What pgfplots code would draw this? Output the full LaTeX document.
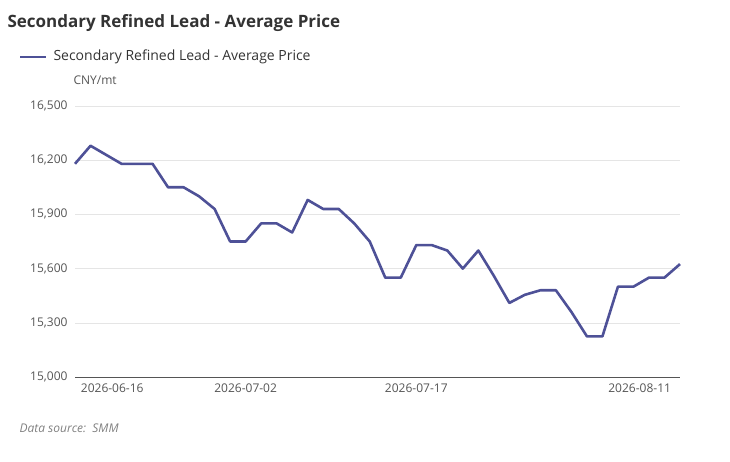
\documentclass[border=0pt]{standalone}
\usepackage{pgfplots}
\pgfplotsset{compat=1.18}
\usepackage{fontspec}
\setmainfont{Open Sans}
\definecolor{ln}{HTML}{4E5197}
\definecolor{tk}{HTML}{555555}
\begin{document}
\begin{tikzpicture}
\path (0pt,0pt) rectangle (730pt,461pt);
\node[anchor=west,font=\fontsize{17}{20}\selectfont\bfseries,text=black!80] at (4pt,438pt) {Secondary Refined Lead - Average Price};
\draw[ln,line width=2.6pt] (20pt,404pt) -- (46pt,404pt);
\node[anchor=west,font=\fontsize{14}{16}\selectfont,text=black!80] at (50pt,404pt) {Secondary Refined Lead - Average Price};
\node[anchor=west,font=\fontsize{12}{14}\selectfont,text=tk] at (70pt,381pt) {CNY/mt};
\node[anchor=west,font=\fontsize{12}{14}\selectfont\itshape,text=black!50] at (16pt,33pt) {Data source:\ \ SMM};
\begin{axis}[at={(75pt,84pt)},anchor=south west,scale only axis,width=605pt,height=271pt,
  xmin=0,xmax=39,ymin=15000,ymax=16500,
  axis x line*=bottom, axis y line*=left, x axis line style={tk,-}, y axis line style={draw=none},
  ytick={15000,15300,15600,15900,16200,16500},
  scaled y ticks=false,
  ymajorgrids, grid style={black!10},
  major tick length=0pt,
  xtick={2.4,11,22,36.4},
  xticklabels={2026-06-16,2026-07-02,2026-07-17,2026-08-11},
  tick label style={font=\fontsize{12}{14}\selectfont,text=tk},
  /pgf/number format/assume math mode=true,
  yticklabel style={/pgf/number format/1000 sep={,},xshift=-4pt},
  xticklabel style={yshift=-3pt},
  clip=false]
\addplot[ln,line width=2.6pt,line join=round] coordinates {
(0,16180)(1,16280)(2,16230)(3,16180)(4,16180)(5,16180)(6,16050)(7,16050)(8,16000)(9,15930)
(10,15750)(11,15750)(12,15850)(13,15850)(14,15800)(15,15980)(16,15930)(17,15930)(18,15850)(19,15750)
(20,15550)(21,15550)(22,15730)(23,15730)(24,15700)(25,15600)(26,15700)(27,15560)(28,15410)(29,15455)
(30,15480)(31,15480)(32,15360)(33,15225)(34,15225)(35,15500)(36,15500)(37,15550)(38,15550)(39,15625)};
\end{axis}
\end{tikzpicture}
\end{document}
